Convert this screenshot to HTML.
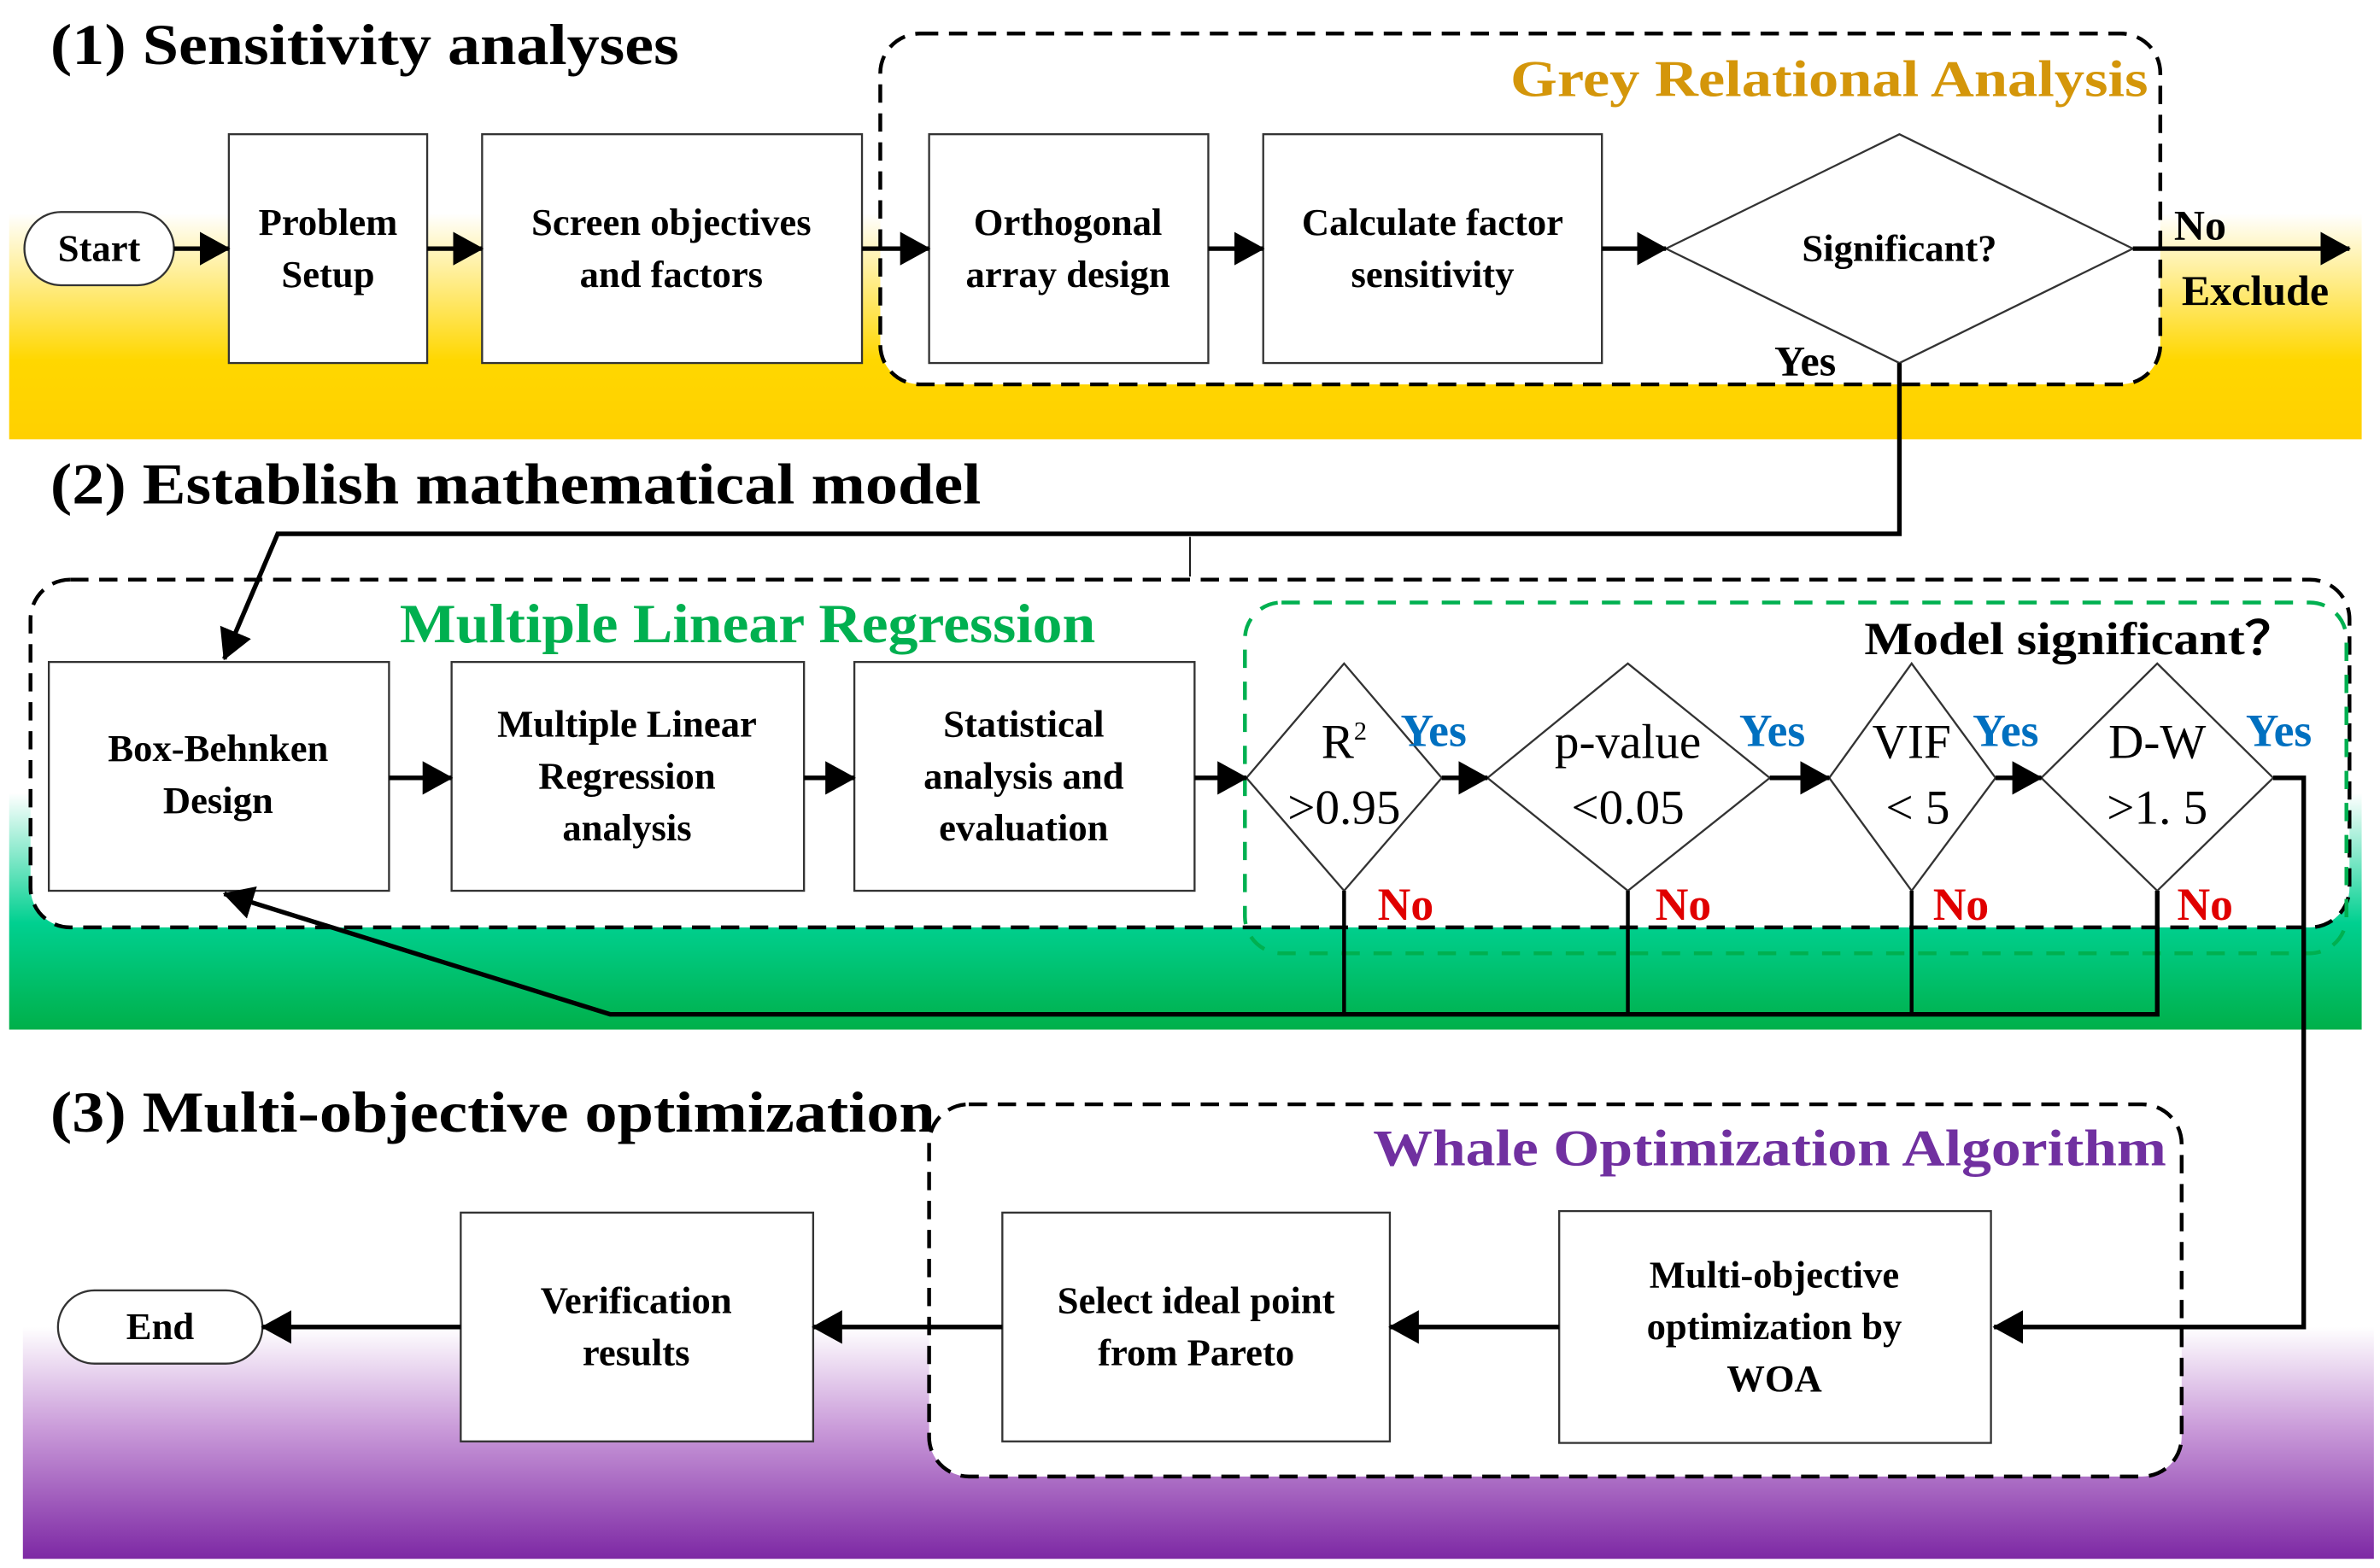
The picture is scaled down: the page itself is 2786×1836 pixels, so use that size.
<!DOCTYPE html>
<html><head><meta charset="utf-8"><style>
html,body{margin:0;padding:0;background:#fff;}
svg{display:block;}
text{font-family:"Liberation Serif",serif;font-weight:bold;}
</style></head><body>
<svg width="2786" height="1836" viewBox="0 0 1560 1028" preserveAspectRatio="none" xmlns="http://www.w3.org/2000/svg">
<defs>
<linearGradient id="gy" x1="0" y1="0" x2="0" y2="1">
<stop offset="0" stop-color="#fff"/><stop offset="0.65" stop-color="#FFD700"/><stop offset="1" stop-color="#FFD000"/></linearGradient>
<linearGradient id="gg" x1="0" y1="0" x2="0" y2="1">
<stop offset="0" stop-color="#fff"/><stop offset="0.55" stop-color="#00D090"/><stop offset="1" stop-color="#00B04A"/></linearGradient>
<linearGradient id="gp" x1="0" y1="0" x2="0" y2="1">
<stop offset="0" stop-color="#fff"/><stop offset="0.45" stop-color="#C898D8"/><stop offset="1" stop-color="#7D28A4"/></linearGradient>
<marker id="ar" markerWidth="20" markerHeight="22" refX="19" refY="11" orient="auto" markerUnits="userSpaceOnUse" viewBox="0 0 20 22">
<path d="M0,0 L20,11 L0,22 z" fill="#000"/></marker>
</defs>
<rect x="6" y="140" width="1542" height="148" fill="url(#gy)"/>
<rect x="6" y="520" width="1542" height="155" fill="url(#gg)"/>
<rect x="15" y="870" width="1541" height="152" fill="url(#gp)"/>

<g font-size="38" fill="#000">
<text x="33" y="42" textLength="412" lengthAdjust="spacingAndGlyphs">(1) Sensitivity analyses</text>
<text x="33" y="330" textLength="610" lengthAdjust="spacingAndGlyphs">(2) Establish mathematical model</text>
<text x="33" y="742" textLength="580" lengthAdjust="spacingAndGlyphs">(3) Multi-objective optimization</text>
</g>

<rect x="577" y="22" width="839" height="230" rx="26" fill="#fff" stroke="#000" stroke-width="2.5" stroke-dasharray="12,7"/>
<text x="990" y="63" font-size="34" fill="#D4960A" textLength="418" lengthAdjust="spacingAndGlyphs">Grey Relational Analysis</text>

<rect x="20" y="380" width="1520" height="228" rx="26" fill="#fff" stroke="#000" stroke-width="2.5" stroke-dasharray="12,7"/>
<rect x="816" y="395" width="722" height="230" rx="24" fill="none" stroke="#00B050" stroke-width="2.5" stroke-dasharray="12,9"/>
<text x="262" y="421" font-size="36" fill="#00B050" textLength="456" lengthAdjust="spacingAndGlyphs">Multiple Linear Regression</text>
<text x="1222" y="429" font-size="30" fill="#000" textLength="283" lengthAdjust="spacingAndGlyphs">Model significant？</text>

<rect x="609" y="724" width="821" height="244" rx="26" fill="#fff" stroke="#000" stroke-width="2.5" stroke-dasharray="12,7"/>
<text x="900" y="764" font-size="34" fill="#7030A0" textLength="520" lengthAdjust="spacingAndGlyphs">Whale Optimization Algorithm</text>

<g fill="#fff" stroke="#333" stroke-width="1.3">
<rect x="16" y="139" width="98" height="48" rx="24"/>
<rect x="150" y="88" width="130" height="150"/>
<rect x="316" y="88" width="249" height="150"/>
<rect x="609" y="88" width="183" height="150"/>
<rect x="828" y="88" width="222" height="150"/>
<polygon points="1092,163 1245,88 1398,163 1245,238"/>
<rect x="32" y="434" width="223" height="150"/>
<rect x="296" y="434" width="231" height="150"/>
<rect x="560" y="434" width="223" height="150"/>
<polygon points="817,510 881,435 945,510 881,584"/>
<polygon points="975,510 1067,435 1160,510 1067,584"/>
<polygon points="1199,510 1253,435 1308,510 1253,584"/>
<polygon points="1338,510 1414,435 1490,510 1414,584"/>
<rect x="38" y="846" width="134" height="48" rx="24"/>
<rect x="302" y="795" width="231" height="150"/>
<rect x="657" y="795" width="254" height="150"/>
<rect x="1022" y="794" width="283" height="152"/>
</g>

<g font-size="25" fill="#000" text-anchor="middle">
<text x="65" y="171">Start</text>
<text x="215" y="154">Problem</text><text x="215" y="188">Setup</text>
<text x="440" y="154">Screen objectives</text><text x="440" y="188">and factors</text>
<text x="700" y="154">Orthogonal</text><text x="700" y="188">array design</text>
<text x="939" y="154">Calculate factor</text><text x="939" y="188">sensitivity</text>
<text x="1245" y="171">Significant?</text>
<text x="143" y="499">Box-Behnken</text><text x="143" y="533">Design</text>
<text x="411" y="483">Multiple Linear</text><text x="411" y="517">Regression</text><text x="411" y="551">analysis</text>
<text x="671" y="483">Statistical</text><text x="671" y="517">analysis and</text><text x="671" y="551">evaluation</text>
<text x="105" y="878">End</text>
<text x="417" y="861">Verification</text><text x="417" y="895">results</text>
<text x="784" y="861">Select ideal point</text><text x="784" y="895">from Pareto</text>
<text x="1163" y="844">Multi-objective</text><text x="1163" y="878">optimization by</text><text x="1163" y="912">WOA</text>
</g>
<g font-size="32" fill="#000" text-anchor="middle">
<text x="881" y="497" style="font-weight:normal">R<tspan font-size="17" dy="-12">2</tspan></text>
<text x="881" y="540" style="font-weight:normal">&gt;0.95</text>
<text x="1067" y="497" style="font-weight:normal">p-value</text>
<text x="1067" y="540" style="font-weight:normal">&lt;0.05</text>
<text x="1253" y="497" style="font-weight:normal">VIF</text>
<text x="1257" y="540" style="font-weight:normal">&lt; 5</text>
<text x="1414" y="497" style="font-weight:normal">D-W</text>
<text x="1414" y="540" style="font-weight:normal">&gt;1. 5</text>
</g>
<g font-size="28" fill="#000">
<text x="1425" y="157">No</text>
<text x="1430" y="200">Exclude</text>
<text x="1163" y="246">Yes</text>
</g>
<g font-size="30" fill="#0070C0">
<text x="918" y="489">Yes</text><text x="1140" y="489">Yes</text><text x="1293" y="489">Yes</text><text x="1472" y="489">Yes</text>
</g>
<g font-size="30" fill="#E00000">
<text x="903" y="603">No</text><text x="1085" y="603">No</text><text x="1267" y="603">No</text><text x="1427" y="603">No</text>
</g>

<g stroke="#000" stroke-width="3" fill="none" marker-end="url(#ar)">
<line x1="114" y1="163" x2="150" y2="163"/>
<line x1="280" y1="163" x2="316" y2="163"/>
<line x1="565" y1="163" x2="609" y2="163"/>
<line x1="792" y1="163" x2="828" y2="163"/>
<line x1="1050" y1="163" x2="1092" y2="163"/>
<line x1="1398" y1="163" x2="1540" y2="163"/>
<polyline points="1245,238 1245,350 182,350 147,432"/>
<line x1="255" y1="510" x2="296" y2="510"/>
<line x1="527" y1="510" x2="560" y2="510"/>
<line x1="783" y1="510" x2="817" y2="510"/>
<line x1="945" y1="510" x2="975" y2="510"/>
<line x1="1160" y1="510" x2="1199" y2="510"/>
<line x1="1308" y1="510" x2="1338" y2="510"/>
<polyline points="1414,584 1414,665 400,665 147,586"/>
<polyline points="1490,510 1510,510 1510,870 1307,870"/>
<line x1="1022" y1="870" x2="911" y2="870"/>
<line x1="657" y1="870" x2="533" y2="870"/>
<line x1="302" y1="870" x2="172" y2="870"/>
</g>
<g stroke="#000" stroke-width="2.5">
<line x1="881" y1="584" x2="881" y2="665"/>
<line x1="1067" y1="584" x2="1067" y2="665"/>
<line x1="1253" y1="584" x2="1253" y2="665"/>
</g>
<line x1="780" y1="352" x2="780" y2="378" stroke="#000" stroke-width="1"/>
</svg>
</body></html>
